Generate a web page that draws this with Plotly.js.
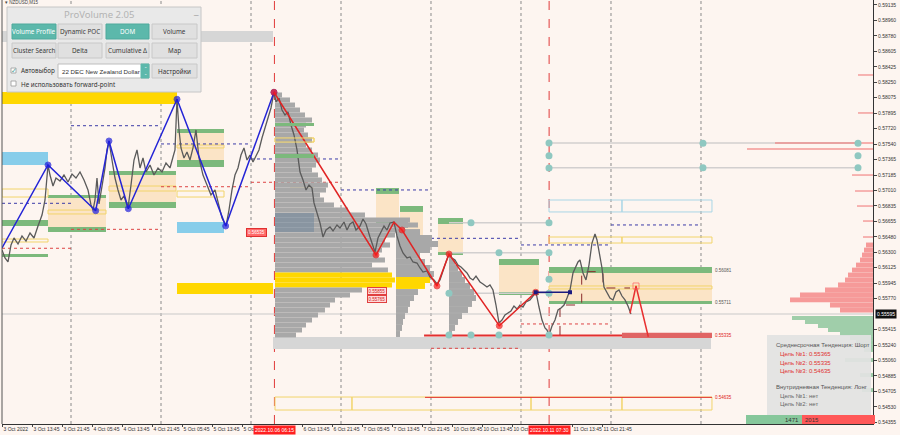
<!DOCTYPE html>
<html><head><meta charset="utf-8">
<script src="https://cdn.plot.ly/plotly-3.0.1.min.js"></script>
<style>html,body{margin:0;padding:0;background:#fdf5f0;}#chart{width:900px;height:435px;}</style>
</head><body><div id="chart"></div>
<script>
// ---------- DATA (time in trading hours since 3 Oct 2022 00:00, weekend removed) ----------
const tickTimes = [5.75,13.75,21.75,29.75,37.75,45.75,53.75,61.75,69.75,85.75,93.75,101.75,109.75,117.75,125.75,133.75,141.75,157.75,165.75];
const tickText = ['3 Oct 2022','3 Oct 13:45','3 Oct 21:45','4 Oct 05:45','4 Oct 13:45','4 Oct 21:45','5 Oct 05:45','5 Oct 13:45','5 Oct','6 Oct 13:45','6 Oct 21:45','7 Oct 05:45','7 Oct 13:45','7 Oct 21:45','10 Oct 05:45','10 Oct 13:45','10 Oct','11 Oct 13:45','11 Oct 21:45'];
const priceTicks = [0.59135,0.58960,0.58780,0.58605,0.58425,0.58250,0.58075,0.57895,0.57720,0.57540,0.57365,0.57185,0.57010,0.56835,0.56655,0.56480,0.56300,0.56125,0.55945,0.55770,0.55415,0.55240,0.55060,0.54885,0.54705,0.54530,0.54355];
const dayStarts = [24,48,72,96,120,144,168,192];
const markTimes = [78.25,151.5];
const markLabels = ['2022.10.06 06:15','2022.10.11 07:30'];
const currentPrice = 0.55595;

const priceT = [5.6,6.4,7.2,8.0,8.8,9.87,10.93,12.0,13.07,14.13,15.2,16.27,17.07,17.6,17.87,18.4,19.2,20.0,21.07,22.13,23.2,24.27,25.33,26.4,27.47,28.53,29.33,29.87,30.4,30.93,31.47,32.27,33.07,33.6,34.13,34.93,35.73,36.53,37.33,38.13,39.2,40.0,40.8,41.6,42.4,43.2,44.0,45.07,46.13,47.2,48.27,49.33,50.4,51.2,51.73,52.27,52.8,53.33,54.13,54.93,55.73,56.53,57.33,58.13,59.2,60.27,61.33,62.4,63.47,64.27,65.33,66.13,66.93,67.73,68.53,69.33,70.13,70.93,71.73,72.53,73.33,74.13,74.93,75.73,76.53,77.33,78.13,
78.67,79.47,80.27,81.07,81.87,82.67,83.47,84.27,85.07,85.87,86.67,87.47,88.27,88.8,89.6,90.4,91.2,92.0,93.07,93.87,94.93,95.73,96.8,97.6,98.4,99.2,100.0,101.07,101.87,102.67,103.73,104.53,105.07,105.87,106.67,107.47,108.27,109.07,110.13,110.93,111.73,112.53,113.6,114.4,115.2,116.27,117.07,117.87,118.93,119.73,120.8,121.6,122.4,123.2,124.0,124.8,125.6,126.4,127.2,128.0,128.8,129.6,130.4,131.2,132.0,133.07,133.87,134.93,135.73,136.53,137.33,138.13,138.93,139.73,140.53,141.33,142.13,142.93,143.73,144.53,145.33,146.4,147.2,148.0,148.8,149.6,150.4,150.93,151.47,152.27,153.07,153.87,154.67,155.47,156.27,157.07,157.87,158.67,159.2,159.73,160.53,161.33,162.13,162.93,163.73,164.27,164.8,165.6,166.13,166.93,167.73,168.53,169.33,170.13,170.93,171.73,172.53,173.33];
const priceP = [0.56328,0.56237,0.56191,0.56386,0.56466,0.56397,0.56489,0.56431,0.56523,0.56466,0.56603,0.56729,0.56901,0.57222,0.57302,0.57187,0.57061,0.57153,0.57119,0.57187,0.57107,0.57199,0.57153,0.57222,0.57130,0.57016,0.56844,0.56786,0.56901,0.57153,0.56855,0.57061,0.57268,0.57474,0.57577,0.57359,0.57153,0.57016,0.56901,0.56947,0.56809,0.57073,0.57359,0.57474,0.57268,0.57382,0.57222,0.57302,0.57187,0.57268,0.57222,0.57325,0.57268,0.57394,0.57474,0.58058,0.57703,0.57497,0.57382,0.57451,0.57359,0.57497,0.57703,0.57382,0.57187,0.57073,0.56958,0.57016,0.56844,0.56695,0.56603,0.56786,0.57016,0.57187,0.57268,0.57416,0.57497,0.57359,0.57416,0.57336,0.57405,0.57474,0.57611,0.57726,0.57817,0.57955,0.58138,
0.58024,0.58069,0.57932,0.57875,0.57909,0.57760,0.57646,0.57474,0.57222,0.57130,0.57016,0.57073,0.57038,0.56867,0.56752,0.56638,0.56477,0.56557,0.56592,0.56546,0.56615,0.56580,0.56649,0.56557,0.56626,0.56649,0.56557,0.56603,0.56683,0.56626,0.56477,0.56386,0.56305,0.56466,0.56534,0.56603,0.56557,0.56638,0.56649,0.56489,0.56374,0.56294,0.56237,0.56248,0.56191,0.56179,0.56122,0.56076,0.56088,0.56019,0.55985,0.55939,0.55985,0.56099,0.56191,0.56282,0.56237,0.56214,0.56156,0.56134,0.56099,0.56065,0.56008,0.55985,0.56030,0.55962,0.55939,0.55904,0.55927,0.55870,0.55698,0.55492,0.55526,0.55584,0.55607,0.55630,0.55687,0.55652,0.55698,0.55675,0.55733,0.55756,0.55801,0.55847,0.55675,0.55526,0.55435,0.55412,0.55355,0.55458,0.55526,0.55641,0.55664,0.55698,0.55778,0.55870,0.56065,0.56134,0.56191,0.56214,0.56065,0.55985,0.56156,0.56408,0.56512,0.56443,0.56328,0.56122,0.55904,0.55836,0.55778,0.55756,0.55847,0.55870,0.55801,0.55756,0.55687,0.55595];

// zigzags
const blueZigT = [5.6,17.87,30.59,34.13,39.28,52.27,65.25,78.13];
const blueZigP = [0.56351,0.57302,0.56778,0.57577,0.56801,0.58055,0.56603,0.58135];
const redZigT = [78.13,105.33,110.13,112.27,121.6,124.8,138.21,147.92];
const redZigP = [0.58135,0.56271,0.56646,0.56557,0.55916,0.56282,0.55461,0.55844];
const linkT = [147.92,157.07];
const linkP = [0.55844,0.55844];
const forecastT = [173.07,174.67,177.95];
const forecastP = [0.55603,0.55916,0.55335];
const stepT = [154.4,154.4,160.19,160.19,165.87,165.87,173.07];
const stepP = [0.55355,0.55698,0.55698,0.56080,0.56080,0.55893,0.55893];

// level circles
const circT = [151.47,151.47,151.47,192.53,192.53,233.87,233.87,233.87,130.67,151.47,138.13,151.47,124.8,151.47,151.47,124.8,130.67,138.13,151.47];
const circP = [0.57554,0.57408,0.57268,0.57550,0.57271,0.57550,0.57408,0.57271,0.56641,0.56641,0.56297,0.56297,0.55832,0.55993,0.55832,0.55355,0.55355,0.55355,0.55355];

// volume profiles
const vp1Base = 78.4;
const vp1Price = [0.58104,0.58047,0.57989,0.57932,0.57875,0.57817,0.57760,0.57703,0.57646,0.57588,0.57531,0.57474,0.57416,0.57359,0.57302,0.57245,0.57187,0.57130,0.57073,0.57016,0.56958,0.56901,0.56844,0.56786,0.56729,0.56672,0.56615,0.56557,0.56500,0.56443,0.56386,0.56328,0.56271,0.56214,0.56156,0.56099,0.56042,0.55985,0.55927,0.55870,0.55813,0.55756,0.55698,0.55641,0.55584,0.55526,0.55469,0.55412,0.55355];
const vp1Len = [1.87,4.0,5.33,6.67,8.0,9.87,8.27,7.73,8.8,9.87,8.27,9.87,11.47,12.0,10.93,9.87,11.47,12.53,14.13,13.6,12.0,13.07,15.73,19.47,24.0,36.0,38.13,34.67,32.0,29.33,30.67,28.53,27.47,29.33,25.87,30.13,31.2,32.0,31.2,23.2,20.0,16.0,14.67,13.33,11.47,9.87,8.27,7.2,5.6];
const vp2Base = 110.67;
const vp2Price = [0.56615,0.56534,0.56466,0.56397,0.56328,0.56260,0.56191,0.56122,0.56053,0.55985,0.55916,0.55847,0.55778,0.55710,0.55641,0.55572,0.55504,0.55435,0.55366];
const vp2Len = [3.2,6.4,9.6,11.2,9.07,6.4,7.73,9.07,10.13,9.07,7.73,5.87,4.8,3.73,3.2,2.4,1.87,1.6,1.07];
const vp3Base = 124.8;
const vp3Price = [0.56260,0.56191,0.56122,0.56053,0.55985,0.55916,0.55847,0.55778,0.55710,0.55641,0.55572,0.55504,0.55435,0.55366];
const vp3Len = [0.8,1.6,2.4,3.47,4.27,5.6,6.67,7.2,6.13,5.07,3.47,2.4,1.6,0.8];
const pocRange = [0.55880,0.56050];

// right-side market profile (sell above / buy below current price)
const rpEdge = 237.87;
const rpLineP = [0.58333,0.57898,0.57554,0.57485,0.57187,0.57004,0.56832,0.56660,0.56477];
const rpLineLen = [4.0,4.0,26.13,33.6,5.6,4.8,4.27,2.67,2.67];
const rpSellP = [0.56386,0.56328,0.56271,0.56214,0.56156,0.56099,0.56042,0.55985,0.55927,0.55870,0.55813,0.55756,0.55698,0.55641];
const rpSellLen = [1.87,2.4,2.93,3.47,4.53,5.6,6.67,7.47,9.33,12.8,19.47,22.13,11.47,8.8];
const rpBuyP = [0.55549,0.55503,0.55458,0.55412,0.55366,0.55320,0.55274,0.55228,0.55183,0.55068,0.54896,0.54724];
const rpBuyLen = [21.6,18.13,14.67,12.0,8.8,6.13,4.53,3.47,2.4,7.47,3.47,2.93];

// zones [t0, t1, pHigh, pLow]
const greenBars = [[5.6,17.87,0.56672,0.56603],[5.6,17.87,0.56282,0.56248],[17.87,33.33,0.56958,0.56924],[17.87,33.33,0.56592,0.56534],[34.13,52.0,0.57233,0.57187],[34.13,52.0,0.56878,0.56809],[52.27,64.8,0.57714,0.57669],[52.27,64.8,0.57359,0.57279],[105.33,111.47,0.57038,0.56970],[105.33,111.47,0.56649,0.56615],[111.73,117.87,0.56832,0.56764],[111.73,117.87,0.56454,0.56420],[121.87,128.53,0.56695,0.56626],[121.87,128.53,0.56305,0.56271],[138.13,148.8,0.56225,0.56156],[138.13,148.8,0.55847,0.55813],[151.47,194.93,0.56134,0.56065],[151.47,194.93,0.55744,0.55710]];
const greenBarsTop = [[78.4,88.8,0.57783,0.57749],[78.4,88.8,0.57428,0.57382]];
const beigeZones = [[17.87,33.33,0.56924,0.56592],[34.13,52.0,0.57187,0.56878],[52.27,64.8,0.57669,0.57359],[105.33,111.47,0.56970,0.56649],[111.73,117.87,0.56764,0.56454],[121.87,128.53,0.56626,0.56305],[138.13,148.8,0.56156,0.55847],[151.47,194.93,0.56065,0.55744]];
const yellowBoxes = [[5.6,17.87,0.57027,0.56935],[5.6,17.87,0.56454,0.56420],[17.87,33.33,0.56786,0.56741],[34.13,52.0,0.57061,0.57004],[52.27,64.8,0.57531,0.57497],[52.27,64.8,0.57004,0.56935],[78.4,88.8,0.57611,0.57565],[82.4,88.8,0.57038,0.57004],[151.47,194.93,0.55916,0.55882],[151.47,170.93,0.56477,0.56408],[170.93,194.93,0.56477,0.56408],[78.4,98.93,0.54644,0.54495],[98.93,146.67,0.54644,0.54495],[146.67,170.93,0.54644,0.54495],[170.93,194.93,0.54644,0.54495]];
const blueBoxes = [[151.47,170.93,0.56901,0.56764],[170.93,194.93,0.56901,0.56764]];
const skyZones = [[5.6,17.87,0.57451,0.57302],[52.27,64.8,0.56649,0.56523]];
const goldZones = [[5.6,52.27,0.58138,0.58001],[52.27,77.87,0.55950,0.55824]];
const grayZones = [[5.6,77.87,0.58837,0.58711],[77.87,194.67,0.55332,0.55194]];
const vaTint = [78.4,88.8,0.56752,0.56534];
// dotted levels [t0, t1, p]
const navyLevels = [[5.6,24,0.56863],[24,48,0.57752],[48,72,0.57543],[72,96,0.57371],[96,120,0.57016],[120,144,0.56462],[144,168,0.56386],[168,192,0.56615]];
const redLevels = [[5.6,24,0.56348],[24,48,0.56565],[48,72,0.57053],[72,96,0.57104],[120,144,0.55202],[144,168,0.55481]];
const grayLinks = [[151.47,234.4,0.57554],[151.47,234.4,0.57271],[124.8,151.47,0.56641],[124.8,151.47,0.56297],[124.8,151.47,0.55832]];
// targets
const targetLines = [[118.15,194.93,0.55350],[118.4,194.93,0.54640]];
const targetBand = [170.93,194.93,0.55380,0.55320];
const sideLabels = [['0.56081',0.56099,'#555'],['0.55711',0.55727,'#555'],['0.55335',0.55350,'#e02020'],['0.54635',0.54640,'#e02020']];

// ---------- BUILD ----------
const shapes = [], annotations = [];
const R = (z,fill,line,lw,layer)=>shapes.push({type:'rect',xref:'x',yref:'y',x0:z[0],x1:z[1],y0:z[2],y1:z[3],fillcolor:fill,line:{color:line||'rgba(0,0,0,0)',width:lw||0},layer:layer||'below'});
const HL = (l,color,w,dash,layer)=>shapes.push({type:'line',xref:'x',yref:'y',x0:l[0],x1:l[1],y0:l[2],y1:l[2],line:{color:color,width:w,dash:dash||'solid'},layer:layer||'below'});

grayZones.forEach(z=>R(z,'#d6d6d6'));
goldZones.forEach(z=>R(z,'#ffd700'));
skyZones.forEach(z=>R(z,'#87cdea'));
beigeZones.forEach(z=>R(z,'#fbe4c6'));
greenBars.forEach(z=>R(z,'#7cb97c'));
yellowBoxes.forEach(z=>R(z,'rgba(0,0,0,0)','#f2d46a',1));
blueBoxes.forEach(z=>R(z,'rgba(0,0,0,0)','#a9d6e6',1));
navyLevels.forEach(l=>HL(l,'#3b3ba8',1,'dot'));
redLevels.forEach(l=>HL(l,'#d44',1,'dot'));
grayLinks.forEach(l=>HL(l,'#d2cfcf',1.5));
HL([5.6,237.87,currentPrice],'#c9c9c9',1);
dayStarts.forEach(t=>shapes.push({type:'line',xref:'x',yref:'paper',x0:t,x1:t,y0:0,y1:1,line:{color:'#8a8a8a',width:1,dash:'dot'},layer:'below'}));
markTimes.forEach(t=>shapes.push({type:'line',xref:'x',yref:'paper',x0:t,x1:t,y0:0,y1:1,line:{color:'#e03a3a',width:1,dash:'dash'},layer:'below'}));
targetLines.forEach((l,i)=>HL(l,'#e23030',i===0?2:1));
R(targetBand,'#e06464');
greenBarsTop.forEach(z=>R(z,'#7cb97c',null,0,'above'));
R(vaTint,'rgba(90,120,150,0.4)',null,0,'above');
R([78.4,88.8,0.57611,0.57565],'rgba(0,0,0,0)','#f2d46a',1,'above');

// paper-space UI helpers (pixel -> paper)
const PX = x=>(x-2)/871, PY = y=>1-y/424;
const PR = (x0,y0,x1,y1,fill,line,lw)=>shapes.push({type:'rect',xref:'paper',yref:'paper',x0:PX(x0),x1:PX(x1),y0:PY(y1),y1:PY(y0),fillcolor:fill,line:{color:line||'rgba(0,0,0,0)',width:lw===undefined?1:lw},layer:'above'});
const PT = (x,y,text,o)=>annotations.push(Object.assign({xref:'paper',yref:'paper',x:PX(x),y:PY(y),text:text,showarrow:false,xanchor:'center',yanchor:'middle',font:{family:'Noto Sans, DejaVu Sans, sans-serif',size:6.5,color:'#333'}},o||{}));

// ProVolume panel
PR(7,7,201,92,'#e9e9e9','#c6c6c6',1);
PT(99,14.5,'ProVolume 2.05',{font:{family:'Noto Sans, sans-serif',size:9.5,color:'#b3b3b3'}});
PT(196,12,'_',{font:{size:8,color:'#888'}});
const btnCols=[[12,56],[58,102],[106,149],[152,197]], btnRows=[[24,39],[43,58]];
const btnText=[['Volume Profile','Dynamic POC','DOM','Volume'],['Cluster Search','Delta','Cumulative Δ','Map']];
const btnOn=[[true,false,true,false],[false,false,false,false]];
btnRows.forEach((r,i)=>btnCols.forEach((c,j)=>{
  PR(c[0],r[0],c[1],r[1],btnOn[i][j]?'#5cb8ab':'#e0e0e0',btnOn[i][j]?'#4fa99c':'#c8c8c8',1);
  PT((c[0]+c[1])/2,(r[0]+r[1])/2,btnText[i][j],{font:{family:'Noto Sans, sans-serif',size:6.3,color:btnOn[i][j]?'#ffffff':'#3a3a3a'}});
}));
PR(11,68,16,73,'#ffffff','#9a9a9a',0.8);
PT(13.5,70,'✓',{font:{size:7,color:'#4aa396'}});
PT(19,70.5,'Автовыбор',{xanchor:'left',font:{family:'Noto Sans, sans-serif',size:6.3,color:'#333'}});
PR(58,64,149,78,'#ffffff','#bdbdbd',1);
PR(141,64,149,78,'#5cb8ab','#5cb8ab',1);
PT(145,71,'⌃<br>⌄',{font:{size:4,color:'#fff'}});
PT(60,71,'22 DEC New Zealand Dollar',{xanchor:'left',font:{family:'Liberation Sans, Arial, sans-serif',size:6.2,color:'#333'}});
PR(152,64,197,78,'#e0e0e0','#c8c8c8',1);
PT(174.5,71,'Настройки',{font:{family:'Noto Sans, sans-serif',size:6.3,color:'#333'}});
PR(11,81,16,86,'#ffffff','#9a9a9a',0.8);
PT(19,84,'Не использовать forward-point',{xanchor:'left',font:{family:'Noto Sans, sans-serif',size:6.3,color:'#333'}});
PT(3,3,'▾ NZDUSD,M15',{xanchor:'left',font:{size:4.5,color:'#444'}});

// info box
PR(767,335,871,415,'rgba(226,226,226,0.93)',null,0);
const info=[['Среднесрочная Тенденция: Шорт',774,344.5,'#555'],['Цель №1: 0.55365',778,353.5,'#e03030'],['Цель №2: 0.55335',778,362.5,'#e03030'],['Цель №3: 0.54635',778,371,'#e03030'],['Внутридневная Тенденция: Лонг',774,386.5,'#555'],['Цель №1: нет',778,395.5,'#666'],['Цель №2: нет',778,404,'#666']];
info.forEach(r=>PT(r[1],r[2],r[0],{xanchor:'left',font:{family:'Liberation Sans, Arial, sans-serif',size:6,color:r[3]}}));
PR(746,415,802,424,'#86c79b',null,0);
PR(802,415,875,424,'#ff5858',null,0);
PT(800.5,419.5,'1471',{xanchor:'right',font:{family:'Liberation Sans, sans-serif',size:6,color:'#333'}});
PT(803,419.5,'2015',{xanchor:'left',font:{family:'Liberation Sans, sans-serif',size:6,color:'#333'}});

// red price tags
PT(256.7,232,'0.56535',{bgcolor:'#ff6a6a',bordercolor:'#e03030',borderpad:1,font:{size:4.5,color:'#fff'}});
PT(377,291,'0.55855',{bgcolor:'#ffd9d9',bordercolor:'#e04040',borderpad:0.5,font:{size:4.5,color:'#d02020'}});
PT(377,299,'0.55765',{bgcolor:'#ffd9d9',bordercolor:'#e04040',borderpad:0.5,font:{size:4.5,color:'#d02020'}});

// side level labels
sideLabels.forEach(s=>annotations.push({xref:'x',yref:'y',x:195.3,y:s[1],text:s[0],showarrow:false,xanchor:'left',yanchor:'middle',font:{family:'Liberation Sans, sans-serif',size:4.5,color:s[2]}}));
// time markers
markTimes.forEach((t,i)=>annotations.push({xref:'x',yref:'paper',x:t,y:PY(429.5),text:markLabels[i],showarrow:false,xanchor:'center',yanchor:'middle',bgcolor:'#ff1f1f',borderpad:1,font:{family:'Liberation Sans, sans-serif',size:5,color:'#fff'}}));
// current price tag
annotations.push({xref:'paper',yref:'y',x:1,xshift:2,y:currentPrice,text:currentPrice.toFixed(5),showarrow:false,xanchor:'left',yanchor:'middle',bgcolor:'#111',borderpad:1,font:{family:'Liberation Sans, sans-serif',size:5,color:'#fff'}});

const pocColor = p=>(p>=pocRange[0]&&p<=pocRange[1])?'#ffd700':'#a8a8a8';
const traces = [
  {type:'bar',orientation:'h',y:vp1Price,x:vp1Len,base:vp1Base,width:0.00057,marker:{color:vp1Price.map(pocColor),line:{width:0}},hoverinfo:'skip'},
  {type:'bar',orientation:'h',y:vp2Price,x:vp2Len,base:vp2Base,width:0.00068,marker:{color:vp2Price.map(p=>(p>=0.5590&&p<=0.5600)?'#ffd700':'#a8a8a8'),line:{width:0}},hoverinfo:'skip'},
  {type:'bar',orientation:'h',y:vp3Price,x:vp3Len,base:vp3Base,width:0.00068,marker:{color:'#a8a8a8',line:{width:0}},hoverinfo:'skip'},
  {type:'bar',orientation:'h',y:rpLineP,x:rpLineLen.map(v=>-v),base:rpEdge,width:0.00016,marker:{color:'rgba(240,120,120,0.75)',line:{width:0}},hoverinfo:'skip'},
  {type:'bar',orientation:'h',y:rpSellP,x:rpSellLen.map(v=>-v),base:rpEdge,width:0.00055,marker:{color:'rgba(242,115,115,0.7)',line:{width:0}},hoverinfo:'skip'},
  {type:'bar',orientation:'h',y:rpBuyP,x:rpBuyLen.map(v=>-v),base:rpEdge,width:0.00045,marker:{color:'rgba(120,190,140,0.7)',line:{width:0}},hoverinfo:'skip'},
  {type:'scatter',mode:'lines',x:stepT,y:stepP,line:{color:'#8b2a2a',width:1,dash:'dash'},hoverinfo:'skip'},
  {type:'scatter',mode:'lines',x:priceT,y:priceP,line:{color:'#5a5a5a',width:1.3},hoverinfo:'skip'},
  {type:'scatter',mode:'markers',x:circT,y:circP,marker:{color:'#8fc8c1',size:7},hoverinfo:'skip'},
  {type:'scatter',mode:'lines+markers',x:blueZigT,y:blueZigP,line:{color:'#2424d6',width:1.5},marker:{color:'#1a1ae0',size:blueZigT.map((t,i)=>i===0?0:6)},hoverinfo:'skip'},
  {type:'scatter',mode:'lines+markers',x:redZigT,y:redZigP,line:{color:'#e02424',width:1.5},marker:{color:'#ff1a1a',size:redZigT.map((t,i)=>i===2?0:6)},hoverinfo:'skip'},
  {type:'scatter',mode:'lines+markers',x:linkT,y:linkP,line:{color:'#1a1a80',width:1.5},marker:{color:'#1a1a80',size:4,symbol:'square'},hoverinfo:'skip'},
  {type:'scatter',mode:'lines+markers',x:forecastT,y:forecastP,line:{color:'#e83030',width:1.5},marker:{color:'#ff6060',size:forecastT.map((t,i)=>i===1?6:0),symbol:'square-open'},hoverinfo:'skip'}
];

const layout = {
  width:900,height:435,margin:{l:2,r:27,t:0,b:11},
  paper_bgcolor:'#fdf5f0',plot_bgcolor:'#fdf5f0',showlegend:false,barmode:'overlay',
  font:{family:'Liberation Sans, Arial, sans-serif',size:5,color:'#333'},
  xaxis:{range:[5.6,237.87],tickvals:tickTimes,ticktext:tickText,ticks:'outside',ticklen:2,tickcolor:'#444',tickangle:0,ticklabelposition:'outside right',showgrid:false,zeroline:false,showline:true,linecolor:'#333',linewidth:1,tickfont:{size:5,color:'#333'},fixedrange:true},
  yaxis:{range:[0.54335,0.59192],side:'right',tickvals:priceTicks,ticktext:priceTicks.map(v=>v.toFixed(5)),ticks:'outside',ticklen:3,tickcolor:'#444',showgrid:false,zeroline:false,showline:true,linecolor:'#333',linewidth:1,tickfont:{size:5,color:'#333'},fixedrange:true},
  shapes:shapes,annotations:annotations
};
shapes.push({type:'line',xref:'paper',yref:'paper',x0:0,x1:0,y0:0,y1:1,line:{color:'#555',width:1},layer:'above'});
Plotly.newPlot('chart',traces,layout,{displayModeBar:false,staticPlot:true});
</script></body></html>
